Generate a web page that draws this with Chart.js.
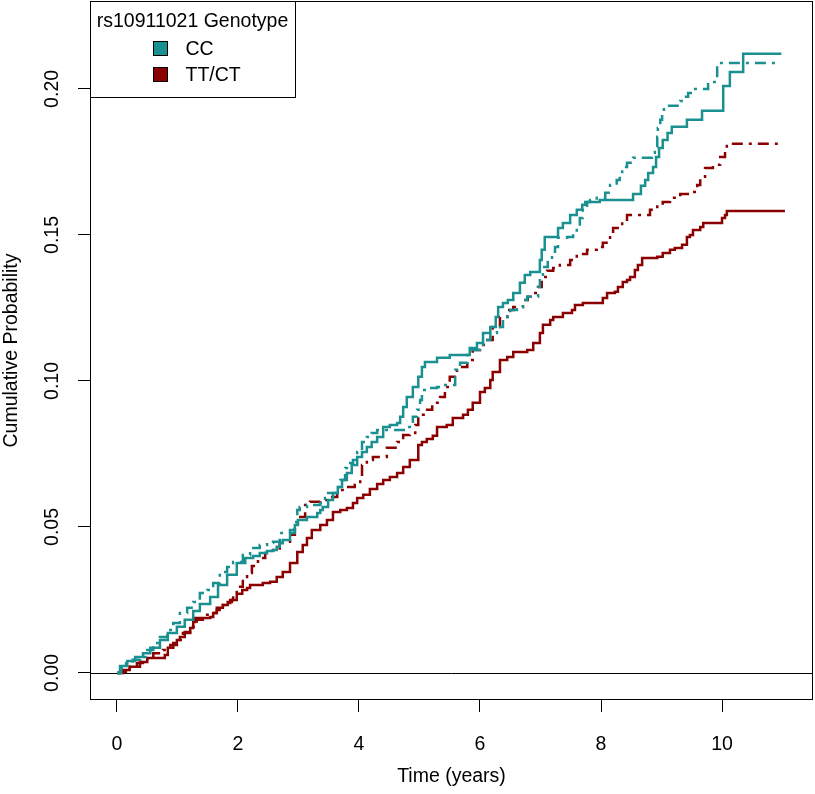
<!DOCTYPE html>
<html>
<head>
<meta charset="utf-8">
<script src="https://cdn.jsdelivr.net/npm/chart.js@4.4.1/dist/chart.umd.min.js"></script>
<style>
  html, body { margin: 0; padding: 0; background: #fff; }
</style>
</head>
<body>
<canvas id="chart" width="815" height="794"></canvas>
<script>
// tick values
const xTicks = [0, 2, 4, 6, 8, 10];
const yTicks = [0, 0.05, 0.10, 0.15, 0.20];

const groups = ['CC', 'TT/CT'];

// CC, solid line
const ccSolidT = [0, 0.05, 0.17, 0.30, 0.43, 0.55, 0.71, 0.84, 0.99, 1.12,
  1.26, 1.37, 1.54, 1.67, 1.82, 1.98, 2.12, 2.25, 2.36, 2.48,
  2.58, 2.64, 2.69, 2.74, 2.86, 2.94, 2.99, 3.14, 3.31, 3.36,
  3.40, 3.49, 3.57, 3.65, 3.72, 3.80, 3.88, 3.97, 4.05, 4.13,
  4.21, 4.30, 4.40, 4.51, 4.63, 4.68, 4.73, 4.79, 4.89, 4.98,
  5.04, 5.09, 5.29, 5.50, 5.83, 5.95, 6.05, 6.17, 6.26, 6.30,
  6.38, 6.46, 6.55, 6.66, 6.74, 6.83, 6.99, 7.02, 7.07, 7.29,
  7.37, 7.49, 7.60, 7.69, 7.74, 7.98, 8.53, 8.66, 8.73, 8.78,
  8.86, 8.91, 8.96, 9.02, 9.10, 9.17, 9.42, 9.67, 10.02, 10.13,
  10.35, 10.98];
const ccSolidP = [0, 0.0024, 0.0041, 0.0055, 0.0068, 0.0086, 0.0113, 0.0137, 0.0158, 0.0182,
  0.0212, 0.0236, 0.0260, 0.0301, 0.0336, 0.0377, 0.0394, 0.0401, 0.0411, 0.0418,
  0.0421, 0.0432, 0.0445, 0.0455, 0.0479, 0.0507, 0.0524, 0.0534, 0.0548, 0.0558,
  0.0568, 0.0592, 0.0616, 0.0637, 0.0661, 0.0685, 0.0712, 0.0740, 0.0757, 0.0774,
  0.0791, 0.0808, 0.0842, 0.0849, 0.0856, 0.0877, 0.0911, 0.0945, 0.0979, 0.1014,
  0.1048, 0.1065, 0.1079, 0.1089, 0.1113, 0.1130, 0.1164, 0.1185, 0.1219, 0.1253,
  0.1267, 0.1277, 0.1301, 0.1336, 0.1363, 0.1373, 0.1414, 0.1449, 0.1493, 0.1524,
  0.1541, 0.1568, 0.1586, 0.1603, 0.1613, 0.1620, 0.1640, 0.1668, 0.1688, 0.1712,
  0.1733, 0.1767, 0.1798, 0.1825, 0.1849, 0.1870, 0.1894, 0.1925, 0.2010, 0.2058,
  0.2120, 0.2120];

// CC, dot-dash line
const ccDashT = [0, 0.07, 0.15, 0.26, 0.38, 0.50, 0.60, 0.71, 0.83, 0.93,
  1.04, 1.16, 1.26, 1.37, 1.49, 1.59, 1.70, 1.82, 1.92, 2.08,
  2.20, 2.36, 2.48, 2.58, 2.69, 2.86, 2.94, 2.98, 3.02, 3.14,
  3.36, 3.44, 3.49, 3.64, 3.69, 3.77, 3.80, 3.90, 3.97, 4.05,
  4.13, 4.21, 4.30, 4.79, 4.84, 4.89, 4.96, 5.01, 5.04, 5.12,
  5.29, 5.37, 5.59, 5.67, 5.79, 5.83, 6.05, 6.17, 6.28, 6.38,
  6.50, 6.61, 6.71, 6.78, 6.96, 6.99, 7.04, 7.12, 7.19, 7.24,
  7.29, 7.44, 7.54, 7.60, 7.65, 7.70, 7.77, 7.82, 7.93, 8.07,
  8.15, 8.26, 8.31, 8.35, 8.43, 8.53, 8.84, 8.89, 8.93, 8.94,
  8.98, 9.01, 9.04, 9.31, 9.37, 9.44, 9.52, 9.77, 9.92, 10.96];
const ccDashP = [0, 0.0017, 0.0034, 0.0045, 0.0055, 0.0079, 0.0103, 0.0123, 0.0147, 0.0171,
  0.0205, 0.0223, 0.0243, 0.0274, 0.0284, 0.0308, 0.0346, 0.0363, 0.0380, 0.0404,
  0.0428, 0.0438, 0.0445, 0.0449, 0.0479, 0.0490, 0.0517, 0.0558, 0.0568, 0.0575,
  0.0582, 0.0599, 0.0616, 0.0637, 0.0661, 0.0702, 0.0719, 0.0729, 0.0757, 0.0791,
  0.0808, 0.0822, 0.0832, 0.0842, 0.0860, 0.0877, 0.0901, 0.0935, 0.0969, 0.0976,
  0.0979, 0.0986, 0.1038, 0.1062, 0.1089, 0.1106, 0.1140, 0.1164, 0.1185, 0.1219,
  0.1243, 0.1253, 0.1277, 0.1288, 0.1322, 0.1356, 0.1390, 0.1414, 0.1438, 0.1459,
  0.1490, 0.1493, 0.1507, 0.1527, 0.1558, 0.1586, 0.1613, 0.1620, 0.1627, 0.1644,
  0.1671, 0.1688, 0.1705, 0.1733, 0.1747, 0.1764, 0.1781, 0.1801, 0.1836, 0.1866,
  0.1894, 0.1921, 0.1942, 0.1959, 0.1973, 0.1986, 0.2000, 0.2024, 0.2089, 0.2089];

// TT/CT, solid line
const ttSolidT = [0, 0.10, 0.21, 0.33, 0.43, 0.50, 0.79, 0.84, 0.93, 0.99,
  1.04, 1.12, 1.21, 1.26, 1.29, 1.54, 1.59, 1.65, 1.75, 1.83,
  1.90, 1.98, 2.07, 2.15, 2.20, 2.41, 2.53, 2.64, 2.74, 2.86,
  2.98, 3.07, 3.14, 3.22, 3.36, 3.47, 3.57, 3.69, 3.80, 3.90,
  3.97, 4.07, 4.18, 4.30, 4.40, 4.51, 4.63, 4.73, 4.84, 4.98,
  5.04, 5.12, 5.22, 5.29, 5.45, 5.55, 5.72, 5.80, 5.88, 6.00,
  6.08, 6.17, 6.21, 6.33, 6.45, 6.55, 6.78, 6.88, 6.99, 7.04,
  7.16, 7.21, 7.37, 7.52, 7.57, 7.70, 8.03, 8.10, 8.23, 8.28,
  8.36, 8.43, 8.48, 8.56, 8.61, 8.68, 8.93, 9.02, 9.14, 9.22,
  9.34, 9.42, 9.47, 9.52, 9.64, 9.69, 10.00, 10.05, 10.08, 11.04];
const ttSolidP = [0, 0.0010, 0.0021, 0.0034, 0.0038, 0.0051, 0.0062, 0.0086, 0.0103, 0.0113,
  0.0123, 0.0140, 0.0154, 0.0175, 0.0188, 0.0192, 0.0205, 0.0223, 0.0233, 0.0243,
  0.0250, 0.0271, 0.0284, 0.0291, 0.0301, 0.0308, 0.0312, 0.0329, 0.0346, 0.0377,
  0.0414, 0.0438, 0.0462, 0.0490, 0.0507, 0.0524, 0.0551, 0.0558, 0.0565, 0.0582,
  0.0599, 0.0610, 0.0630, 0.0647, 0.0661, 0.0671, 0.0685, 0.0705, 0.0729, 0.0781,
  0.0791, 0.0801, 0.0812, 0.0842, 0.0849, 0.0873, 0.0884, 0.0901, 0.0925, 0.0962,
  0.0976, 0.1003, 0.1031, 0.1072, 0.1082, 0.1099, 0.1106, 0.1130, 0.1164, 0.1192,
  0.1209, 0.1219, 0.1233, 0.1243, 0.1260, 0.1267, 0.1284, 0.1301, 0.1305, 0.1322,
  0.1339, 0.1346, 0.1356, 0.1380, 0.1397, 0.1421, 0.1425, 0.1438, 0.1449, 0.1455,
  0.1466, 0.1493, 0.1500, 0.1517, 0.1527, 0.1541, 0.1558, 0.1568, 0.1582, 0.1582];

// TT/CT, dot-dash line
const ttDashT = [0, 0.05, 0.21, 0.38, 0.50, 0.60, 0.76, 0.88, 0.99, 1.09,
  1.21, 1.32, 1.42, 1.54, 1.65, 1.75, 1.87, 1.92, 1.98, 2.08,
  2.15, 2.23, 2.33, 2.45, 2.58, 2.69, 2.86, 2.94, 2.99, 3.11,
  3.19, 3.36, 3.47, 3.64, 3.80, 3.93, 4.02, 4.05, 4.13, 4.23,
  4.46, 4.63, 4.73, 4.84, 4.93, 4.98, 5.09, 5.21, 5.34, 5.42,
  5.50, 5.62, 5.79, 5.88, 6.00, 6.12, 6.21, 6.33, 6.45, 6.55,
  6.71, 6.79, 6.88, 6.96, 7.02, 7.11, 7.21, 7.32, 7.49, 7.60,
  7.77, 7.93, 8.03, 8.15, 8.20, 8.35, 8.43, 8.81, 8.93, 9.02,
  9.14, 9.31, 9.50, 9.59, 9.64, 9.72, 9.85, 9.97, 10.05, 10.08,
  10.98];
const ttDashP = [0, 0.0003, 0.0021, 0.0038, 0.0055, 0.0068, 0.0079, 0.0096, 0.0113, 0.0137,
  0.0158, 0.0182, 0.0199, 0.0205, 0.0216, 0.0233, 0.0250, 0.0274, 0.0295, 0.0329,
  0.0342, 0.0366, 0.0394, 0.0411, 0.0421, 0.0445, 0.0473, 0.0497, 0.0534, 0.0575,
  0.0586, 0.0592, 0.0603, 0.0627, 0.0637, 0.0654, 0.0671, 0.0712, 0.0729, 0.0740,
  0.0771, 0.0791, 0.0815, 0.0822, 0.0849, 0.0884, 0.0901, 0.0925, 0.0945, 0.0979,
  0.1014, 0.1048, 0.1072, 0.1106, 0.1123, 0.1140, 0.1185, 0.1219, 0.1243, 0.1253,
  0.1277, 0.1288, 0.1301, 0.1322, 0.1356, 0.1377, 0.1387, 0.1397, 0.1414, 0.1435,
  0.1449, 0.1459, 0.1473, 0.1500, 0.1524, 0.1545, 0.1568, 0.1586, 0.1603, 0.1613,
  0.1627, 0.1640, 0.1647, 0.1671, 0.1699, 0.1729, 0.1740, 0.1767, 0.1791, 0.1812,
  0.1812];

const TEAL = '#1a9090';
const DARKRED = '#8b0000';
const FONT = '"Liberation Sans", Arial, Helvetica, sans-serif';
const FS = 19.5;
const dotDash = [11, 6, 3, 6];

function pts(t, p) {
  return t.map((v, i) => ({ x: v, y: p[i] }));
}

function line(label, t, p, color, dash) {
  return {
    label,
    data: pts(t, p),
    borderColor: color,
    borderWidth: 2.5,
    borderDash: dash,
    stepped: true,
    pointRadius: 0,
    fill: false,
    tension: 0
  };
}

// R style frame, zero line and legend
const rFrame = {
  id: 'rFrame',
  beforeDatasetsDraw(chart) {
    const { ctx, chartArea: a, scales: { y } } = chart;
    const y0 = Math.round(y.getPixelForValue(0)) + 0.5;
    ctx.save();
    ctx.strokeStyle = '#000';
    ctx.lineWidth = 1;
    ctx.beginPath();
    ctx.moveTo(a.left, y0);
    ctx.lineTo(a.right, y0);
    ctx.stroke();
    ctx.restore();
  },
  afterDraw(chart) {
    const { ctx, chartArea: a } = chart;
    ctx.save();
    ctx.strokeStyle = '#000';
    ctx.lineWidth = 1;
    ctx.strokeRect(Math.round(a.left) + 0.5, Math.round(a.top) + 0.5,
      Math.round(a.right - a.left) - 1, Math.round(a.bottom - a.top) - 1);

    // legend
    const lx = Math.round(a.left) + 0.5, ly = Math.round(a.top) + 0.5;
    ctx.fillStyle = '#fff';
    ctx.fillRect(lx, ly, 205, 96);
    ctx.strokeRect(lx, ly, 205, 96);
    ctx.fillStyle = '#000';
    ctx.font = FS + 'px ' + FONT;
    ctx.textBaseline = 'middle';
    ctx.textAlign = 'center';
    ctx.fillText('rs10911021 Genotype', lx + 102, ly + 20);
    const colors = [TEAL, DARKRED];
    groups.forEach((g, i) => {
      const cy = ly + 47 + i * 26;
      ctx.fillStyle = colors[i];
      ctx.fillRect(lx + 63, cy - 7, 14, 14);
      ctx.strokeRect(lx + 63, cy - 7, 14, 14);
      ctx.fillStyle = '#000';
      ctx.textAlign = 'left';
      ctx.fillText(g, lx + 95, cy + 1);
    });
    ctx.restore();
  }
};

new Chart(document.getElementById('chart'), {
  type: 'line',
  data: {
    datasets: [
      line('CC', ccSolidT, ccSolidP, TEAL, []),
      line('CC', ccDashT, ccDashP, TEAL, dotDash),
      line('TT/CT', ttSolidT, ttSolidP, DARKRED, []),
      line('TT/CT', ttDashT, ttDashP, DARKRED, dotDash)
    ]
  },
  options: {
    responsive: false,
    animation: false,
    layout: { padding: { top: 1, right: 2, left: 0, bottom: 0 } },
    plugins: { legend: { display: false }, tooltip: { enabled: false } },
    scales: {
      x: {
        type: 'linear',
        min: -0.446,
        max: 11.504,
        afterBuildTicks: (s) => { s.ticks = xTicks.map(v => ({ value: v })); },
        afterFit: (s) => { s.height = 94; s.paddingLeft = 0; s.paddingRight = 0; },
        border: { display: false },
        grid: { drawOnChartArea: false, tickLength: 12, color: '#000', lineWidth: 1 },
        ticks: {
          color: '#000', padding: 21, maxRotation: 0,
          font: { family: FONT, size: FS },
          callback: (v) => String(v)
        },
        title: {
          display: true, text: 'Time (years)', color: '#000',
          font: { family: FONT, size: FS }, padding: { top: 0, bottom: 6 }
        }
      },
      y: {
        type: 'linear',
        min: -0.00925,
        max: 0.2301,
        afterBuildTicks: (s) => { s.ticks = yTicks.map(v => ({ value: v })); },
        afterFit: (s) => { s.width = 90; s.paddingTop = 0; s.paddingBottom = 0; },
        border: { display: false },
        grid: { drawOnChartArea: false, tickLength: 12, color: '#000', lineWidth: 1 },
        ticks: {
          color: '#000', padding: 6, minRotation: 90, maxRotation: 90,
          crossAlign: 'center',
          font: { family: FONT, size: FS },
          callback: (v) => Number(v).toFixed(2)
        },
        title: {
          display: true, text: 'Cumulative Probability', color: '#000',
          font: { family: FONT, size: FS }, padding: { top: 0, bottom: 0 }
        }
      }
    }
  },
  plugins: [rFrame]
});
</script>
</body>
</html>
